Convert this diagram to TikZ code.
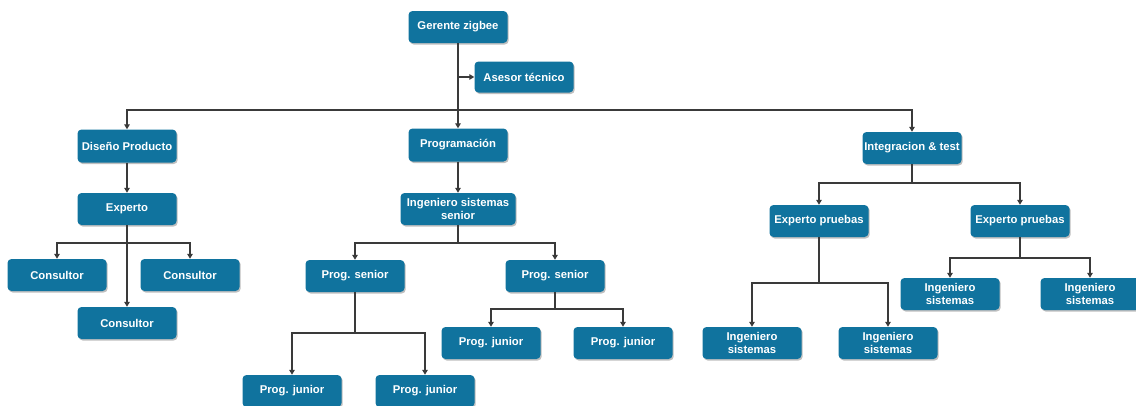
\documentclass[tikz,border=0pt]{standalone}
\usepackage{fontspec}
\setmainfont{Liberation Sans}
\usetikzlibrary{arrows.meta,shadows}
\definecolor{zblue}{HTML}{10739E}
\definecolor{zline}{HTML}{3A3A3A}
\tikzset{
  box/.style={rectangle, rounded corners=4pt, fill=zblue, text=white,
    font=\fontsize{11.3}{13}\selectfont\bfseries, minimum width=99pt, minimum height=32pt,
    align=center, inner sep=1pt,
    drop shadow={shadow xshift=1.2pt, shadow yshift=-1.5pt, opacity=0.25, fill=black}},
  arr/.style={draw=zline, line width=1.2pt, -{Triangle[length=5pt,width=5.5pt]}},
  ln/.style={draw=zline, line width=1.2pt}
}
\begin{document}
\begin{tikzpicture}[x=1pt,y=-1pt]
\useasboundingbox (0,0) rectangle (1136,405);
% nodes
\node[box] (G) at (458,27) {Gerente zigbee};
\node[box, minimum height=31pt] (A) at (524,77) {Asesor técnico};
\node[box, minimum height=33pt] (D) at (127,146) {Diseño Producto};
\node[box, minimum height=33pt] (P) at (458,145) {Programación};
\node[box] (I) at (912,148) {Integracion \& test};
\node[box] (E) at (127,209) {Experto};
\node[box, minimum width=115pt] (S) at (458,209) {Ingeniero sistemas\\senior};
\node[box] (C1) at (57,275) {Consultor};
\node[box] (C2) at (190,275) {Consultor};
\node[box] (C3) at (127,323) {Consultor};
\node[box] (PS1) at (355,276) {Prog. senior};
\node[box] (PS2) at (555,276) {Prog. senior};
\node[box] (PJ1) at (292,391) {Prog. junior};
\node[box] (PJ2) at (425,391) {Prog. junior};
\node[box] (PJ3) at (491,343) {Prog. junior};
\node[box] (PJ4) at (623,343) {Prog. junior};
\node[box] (EP1) at (819,221) {Experto pruebas};
\node[box] (EP2) at (1020,221) {Experto pruebas};
\node[box] (IS1) at (752,343) {Ingeniero\\sistemas};
\node[box] (IS2) at (888,343) {Ingeniero\\sistemas};
\node[box] (IS3) at (950,294) {Ingeniero\\sistemas};
\node[box] (IS4) at (1090,294) {Ingeniero\\sistemas};
% connectors
\coordinate (gb) at (458,110);
\draw[arr] (G.south) -- (P.north);
\draw[arr] (G.south |- A.west) -- (A.west);
\draw[arr] (gb) -| (D.north);
\draw[arr] (gb) -| (I.north);
\draw[arr] (D.south) -- (E.north);
\draw[arr] (P.south) -- (S.north);
\draw[arr] (E.south) -- (C3.north);
\draw[arr] (E.south |- 0,243) -| (C1.north);
\draw[arr] (E.south |- 0,243) -| (C2.north);
\draw[ln] (S.south) -- (S.south |- 0,243);
\draw[arr] (S.south |- 0,243) -| (PS1.north);
\draw[arr] (S.south |- 0,243) -| (PS2.north);
\draw[ln] (PS1.south) -- (PS1.south |- 0,333);
\draw[arr] (PS1.south |- 0,333) -| (PJ1.north);
\draw[arr] (PS1.south |- 0,333) -| (PJ2.north);
\draw[ln] (PS2.south) -- (PS2.south |- 0,309);
\draw[arr] (PS2.south |- 0,309) -| (PJ3.north);
\draw[arr] (PS2.south |- 0,309) -| (PJ4.north);
\draw[ln] (I.south) -- (I.south |- 0,183);
\draw[arr] (I.south |- 0,183) -| (EP1.north);
\draw[arr] (I.south |- 0,183) -| (EP2.north);
\draw[ln] (EP1.south) -- (EP1.south |- 0,283);
\draw[arr] (EP1.south |- 0,283) -| (IS1.north);
\draw[arr] (EP1.south |- 0,283) -| (IS2.north);
\draw[ln] (EP2.south) -- (EP2.south |- 0,258);
\draw[arr] (EP2.south |- 0,258) -| (IS3.north);
\draw[arr] (EP2.south |- 0,258) -| (IS4.north);
\end{tikzpicture}
\end{document}
